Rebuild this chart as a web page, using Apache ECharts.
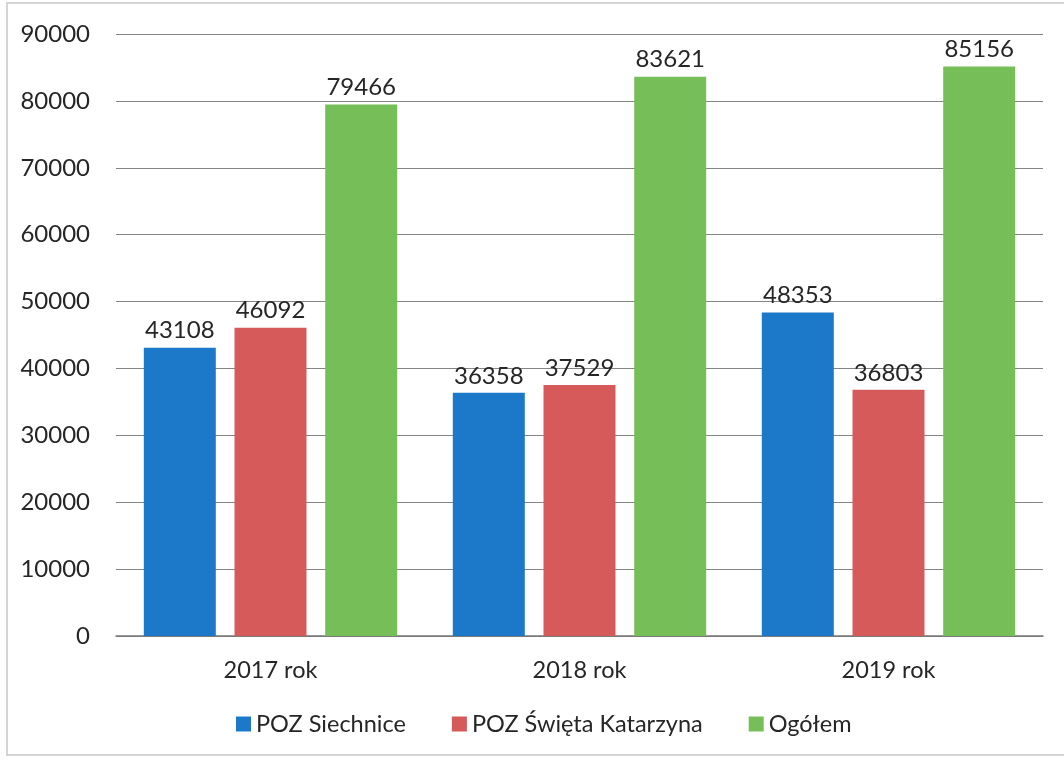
<!DOCTYPE html>
<html><head><meta charset="utf-8">
<script src="https://cdn.jsdelivr.net/npm/echarts@6/dist/echarts.min.js"></script>
<style>html,body{margin:0;padding:0;background:#fff}#c{width:1064px;height:763px}</style>
</head><body><div id="c"></div>
<script>
const categories = ['2017 rok', '2018 rok', '2019 rok'];
const seriesNames = ['POZ Siechnice', 'POZ Święta Katarzyna', 'Ogółem'];
const siechnice = [43108, 36358, 48353];
const katarzyna = [46092, 37529, 36803];
const ogolem = [79466, 83621, 85156];
const colors = ['#1C78C8', '#D65A5A', '#76BF58'];
const font = 'Lato, "Open Sans", sans-serif';

const chart = echarts.init(document.getElementById('c'));
const mk = (name, data, color) => ({
  name, type: 'bar', data,
  barGap: '26%', barCategoryGap: '18%',
  itemStyle: { color },
  label: { show: true, position: 'top', distance: 5, color: '#262626', fontSize: 24, fontFamily: font }
});
chart.setOption({
  animation: false,
  backgroundColor: '#fff',
  graphic: [{ type: 'rect', shape: { x: 7, y: 3, width: 1070, height: 752 },
    style: { fill: 'none', stroke: '#c8c8c8', lineWidth: 1.5 }, silent: true }],
  grid: { left: 116, right: 21, top: 34, bottom: 127, containLabel: false },
  legend: {
    bottom: 22, left: 231, itemWidth: 15, itemHeight: 15, itemGap: 46,
    icon: 'rect',
    textStyle: { fontSize: 23.5, color: '#262626', fontFamily: font },
    data: seriesNames
  },
  xAxis: {
    type: 'category', data: categories,
    axisLine: { lineStyle: { color: '#777', width: 1.5 } },
    axisTick: { show: false },
    axisLabel: { fontSize: 23.5, color: '#262626', margin: 22, fontFamily: font }
  },
  yAxis: {
    type: 'value', min: 0, max: 90000, interval: 10000,
    axisLine: { show: false }, axisTick: { show: false },
    splitLine: { lineStyle: { color: '#858585', width: 1.2 } },
    axisLabel: { fontSize: 24, color: '#262626', margin: 26, fontFamily: font,
      formatter: v => String(v) }
  },
  series: [
    mk(seriesNames[0], siechnice, colors[0]),
    mk(seriesNames[1], katarzyna, colors[1]),
    mk(seriesNames[2], ogolem, colors[2])
  ]
});
</script></body></html>
